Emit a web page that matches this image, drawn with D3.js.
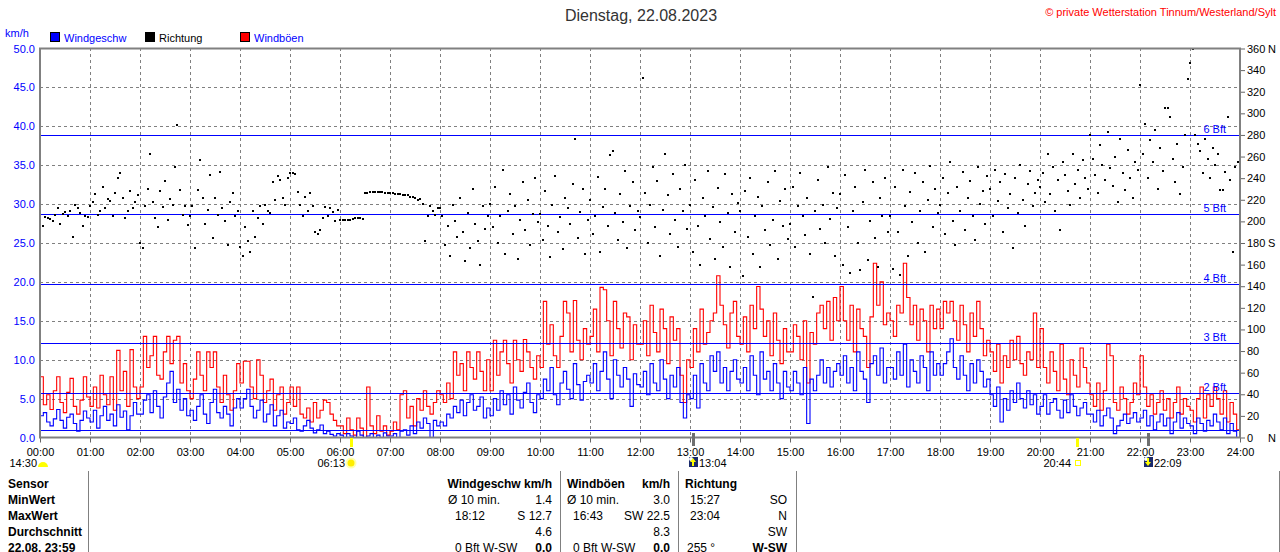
<!DOCTYPE html>
<html>
<head>
<meta charset="utf-8">
<script src="https://cdn.jsdelivr.net/npm/d3@7"></script>
<style>
body { margin: 0; background: #fff; }
svg { display: block; font-family: "Liberation Sans", Arial, sans-serif; }
</style>
</head>
<body>
<svg id="chart" width="1280" height="552"></svg>
<script>
// wind speed km/h, one value every 4 minutes (15 per hour)
var speed = [
	2.8,3.2,2.0,1.5,2.4,3.6,2.2,1.2,2.6,3.0,1.8,0.8,2.2,3.4,2.5,
	2.0,3.5,1.2,2.8,4.0,2.2,3.0,1.5,4.2,2.6,3.4,1.0,2.8,4.5,3.0,
	3.0,4.8,5.5,3.2,6.0,4.0,2.5,5.2,7.0,8.5,4.5,6.2,3.5,5.0,2.8,
	3.5,2.2,4.0,5.5,3.0,1.8,4.5,6.2,3.2,2.5,4.0,3.0,1.5,3.8,5.0,
	3.8,5.0,6.2,4.0,2.5,3.5,4.8,2.0,3.0,4.2,1.5,2.8,3.5,1.2,2.0,
	1.8,2.5,1.0,0.8,1.5,2.2,1.2,0.6,1.0,1.6,0.5,0.8,0.4,0.2,0.5,
	0.3,0.0,0.5,0.2,0.0,0.8,0.3,0.0,0.2,0.5,0.0,0.3,0.0,0.6,0.2,
	0.2,0.5,0.0,0.8,1.0,0.3,1.5,0.5,2.0,1.2,2.5,1.8,0.0,2.2,1.5,
	2.0,1.5,3.0,2.5,4.0,3.2,4.8,2.8,4.5,5.5,3.5,4.0,5.2,2.5,3.8,
	2.8,5.0,3.5,6.0,4.2,5.5,3.0,6.5,4.8,3.8,5.8,7.0,4.5,3.2,5.5,
	5.0,7.5,6.0,9.0,5.5,4.2,7.0,8.5,6.2,5.0,9.5,6.8,4.8,7.2,8.0,
	7.0,9.5,6.0,8.5,11.0,7.5,5.0,10.0,8.0,6.5,9.0,7.5,4.0,8.2,6.8,
	6.5,8.5,5.5,9.5,7.0,6.0,10.0,7.5,5.0,8.0,6.5,9.0,4.5,2.5,5.5,
	5.0,8.0,3.8,9.5,7.0,6.0,10.5,8.5,11.0,7.0,9.0,6.0,8.5,10.0,7.5,
	7.0,9.0,6.0,10.5,8.0,5.5,11.0,7.5,8.5,6.0,9.5,7.0,5.0,8.5,6.5,
	6.0,8.5,7.0,5.5,9.0,1.8,7.5,6.0,8.0,10.0,7.0,9.0,6.5,8.5,9.5,
	8.0,10.5,7.0,9.0,6.0,11.0,8.5,7.5,4.5,9.5,10.5,8.0,11.5,7.0,9.0,
	9.0,7.5,11.0,8.0,12.0,6.5,10.0,8.5,7.0,10.5,9.0,6.0,11.0,8.0,9.5,
	8.0,9.5,11.0,12.7,9.0,7.5,10.5,8.0,6.0,9.5,7.0,10.0,8.5,6.5,7.5,
	5.5,4.0,6.5,2.0,5.0,3.5,6.0,4.5,7.0,5.0,3.8,6.0,4.2,5.5,3.0,
	4.0,5.5,3.0,4.5,5.0,3.5,2.5,4.8,3.2,5.5,4.0,2.8,3.8,4.5,3.0,
	3.0,2.0,3.5,1.5,2.8,3.8,2.5,0.5,1.5,2.2,3.0,1.8,2.5,3.2,2.0,
	2.5,3.5,1.5,2.8,1.0,2.0,3.0,1.5,2.5,0.5,2.0,3.2,1.2,2.5,1.8,
	1.5,0.5,2.5,1.8,0.8,2.2,1.5,3.0,2.0,1.0,2.5,0.5,1.8,0.8,0.0
];

// gusts km/h, same 4 minute steps
var gusts = [
	7.8,4.2,5.5,3.6,6.0,7.8,4.5,3.2,5.8,7.6,4.0,3.0,4.8,7.8,5.2,
	4.0,6.5,3.8,8.0,5.5,4.2,7.8,3.5,11.2,6.0,8.5,4.0,11.3,6.5,5.0,
	6.5,13.0,9.0,10.5,13.0,8.0,7.5,11.0,13.0,9.5,12.5,13.0,7.0,9.5,6.0,
	5.0,7.5,11.0,8.0,6.0,11.0,9.0,11.0,6.5,4.5,8.0,5.5,3.5,6.0,9.5,
	7.0,9.8,9.8,6.5,5.0,10.0,8.0,4.5,6.0,7.5,3.5,5.5,6.5,3.0,4.5,
	6.5,4.0,6.5,3.0,2.5,3.8,2.0,4.5,2.5,3.5,4.8,4.5,3.0,2.2,1.5,
	1.5,0.5,2.5,1.0,0.3,2.5,1.2,0.0,6.5,1.5,0.5,2.8,0.8,1.5,0.3,
	0.8,2.0,1.0,5.5,6.0,2.5,4.0,1.5,5.0,3.5,6.0,4.0,3.0,4.5,6.0,
	5.5,4.5,7.0,5.0,11.0,8.0,9.5,6.0,11.0,9.0,7.5,11.0,8.5,6.0,10.0,
	6.0,12.5,8.0,11.0,12.5,9.5,7.0,12.5,10.0,8.5,12.6,11.0,9.0,7.5,10.5,
	9.0,17.5,12.0,14.5,10.5,9.0,13.0,17.5,16.0,11.0,17.6,12.5,10.0,14.0,12.0,
	13.0,16.5,11.0,19.3,19.0,15.0,10.5,17.5,14.0,11.5,16.0,15.5,10.0,14.5,12.0,
	12.0,15.0,10.5,17.0,13.5,11.0,16.5,14.0,9.5,15.5,12.5,14.0,8.0,4.5,10.0,
	9.0,14.0,11.0,16.5,12.0,13.5,15.0,16.0,20.8,17.0,14.5,11.5,16.0,17.5,13.0,
	12.0,15.5,11.0,17.0,14.0,19.4,16.5,13.0,15.0,10.5,16.0,12.5,9.5,14.0,11.0,
	11.0,14.5,13.0,10.0,15.0,7.0,13.5,12.0,16.0,17.0,14.0,17.5,12.5,18.0,15.0,
	19.4,15.0,12.5,17.0,11.0,16.5,14.0,13.0,9.0,15.5,22.4,17.0,20.0,14.5,16.0,
	15.0,13.0,17.0,16.0,22.4,18.0,14.5,17.0,12.5,16.5,15.0,11.0,17.0,14.0,16.5,
	14.0,17.5,16.0,17.5,15.0,12.5,17.0,14.5,11.0,16.0,13.0,17.5,14.0,10.5,12.5,
	11.0,8.5,12.0,7.0,10.5,9.0,12.5,10.0,13.0,9.5,8.0,11.0,10.0,16.0,9.0,
	14.0,9.0,7.0,11.0,8.5,6.0,12.0,7.5,5.5,10.0,8.0,6.5,11.5,9.0,7.0,
	5.5,4.0,7.0,3.5,6.0,12.0,10.5,4.5,3.5,6.5,5.0,3.0,4.5,7.0,5.5,
	10.5,6.5,4.0,5.5,3.0,4.5,6.0,3.5,5.0,2.5,4.5,6.5,3.0,5.0,4.0,
	3.5,2.0,5.0,6.5,2.5,5.5,4.0,6.5,5.0,3.0,6.0,2.0,4.5,3.0,1.0
];

// wind direction in degrees, one value every 3 minutes (20 per hour)
var direction = [
	190,196,204,203,202,200,206,212,198,207,209,205,210,186,215,212,208,196,205,204,
	214,218,225,206,210,232,212,221,219,205,226,240,245,222,203,210,228,212,218,224,
	180,175,214,230,262,218,203,195,228,213,237,201,221,215,250,289,229,206,214,197,
	205,214,175,229,257,222,198,211,243,185,222,206,246,212,200,178,218,226,205,210,
	176,168,195,182,172,210,186,203,214,198,215,210,208,236,220,242,238,222,215,240,
	245,245,244,227,215,205,223,210,226,214,190,188,192,203,213,205,212,209,200,211,
	201,201,201,201,201,202,203,203,203,202,226,226,227,227,227,227,227,227,226,226,
	226,226,225,225,225,224,224,224,223,223,222,220,221,216,182,205,214,210,206,212,
	212,205,178,196,168,215,200,186,222,190,163,208,175,230,198,182,160,214,193,205,
	216,195,232,180,205,248,170,210,225,188,214,165,201,236,192,220,178,207,240,199,
	207,183,228,196,167,215,242,190,204,174,222,212,198,235,276,185,209,230,170,201,
	220,188,205,241,172,213,230,196,261,265,208,183,225,199,247,175,214,236,192,210,
	204,333,226,180,215,250,195,237,168,211,262,224,188,244,201,176,230,210,252,193,
	215,172,238,196,160,222,205,247,184,213,165,231,199,176,244,208,158,225,190,217,
	210,149,228,186,240,170,205,223,158,214,192,236,178,201,247,165,219,196,230,184,
	198,232,176,214,245,205,187,222,170,130,210,238,193,215,180,250,202,226,168,212,
	225,160,243,195,152,210,232,180,155,218,248,164,200,236,185,158,222,205,240,190,
	205,156,232,190,150,248,214,168,227,199,245,180,210,236,172,220,251,195,230,208,
	215,240,188,226,255,200,178,232,210,246,192,222,237,205,183,250,216,228,198,242,
	230,205,248,219,236,190,244,212,225,175,240,208,252,220,196,235,247,214,226,238,
	232,245,218,262,225,250,210,238,192,255,243,228,215,262,235,248,222,257,240,230,
	280,258,243,226,271,252,238,283,249,233,260,218,276,245,229,266,240,222,255,248,
	326,262,290,240,275,255,285,230,268,247,305,305,297,258,236,272,225,250,280,332,
	347,360,280,272,265,245,276,258,240,268,252,262,229,229,246,297,238,172,250,255
];

var speedStep = 4, dirStep = 3;
var hourTicks = d3.range(0, 1441, 60);
var kmhTicks = d3.range(0, 50.1, 5);
var degTicks = d3.range(0, 361, 20);
var degNames = [[0, "N"], [180, "S"], [360, "N"]];
var bftLimits = [1.0, 5.7, 12.1, 19.7, 28.7, 38.9];
var bftNames = ["", "2 Bft", "3 Bft", "4 Bft", "5 Bft", "6 Bft"];

var astroMinutes = [4, 373, 784, 1244, 1329];
var astroLabels = ["14:30", "06:13", "13:04", "20:44", "22:09"];
var astroKinds = ["moon", "sun", "moonrise", "sunset", "moonset"];

var legendNames = ["Windgeschw", "Richtung", "Windböen"];
var legendColors = ["#0000ff", "#000000", "#ff0000"];
var legendText = ["#0000ff", "#000000", "#0000ff"];

var rowNames = ["Sensor", "MinWert", "MaxWert", "Durchschnitt", "22.08. 23:59"];
var speedCol = [["Ø 10 min.", "1.4"], ["18:12", "S 12.7"], ["", "4.6"], ["0 Bft W-SW", "0.0"]];
var gustCol = [["Ø 10 min.", "3.0"], ["16:43", "SW 22.5"], ["", "8.3"], ["0 Bft W-SW", "0.0"]];
var dirCol = [["15:27", "SO"], ["23:04", "N"], ["", "SW"], ["255 °", "W-SW"]];

var svg = d3.select('#chart');
var x = d3.scaleLinear().domain([0, 1440]).range([40, 1240]);
var y = d3.scaleLinear().domain([0, 50]).range([437.5, 48.5]);
var yDir = d3.scaleLinear().domain([0, 360]).range([437.5, 48.5]);
function px(v) { return Math.round(v) + 0.5; }

svg.append('clipPath').attr('id', 'plot')
	.append('rect').attr('x', 40).attr('y', 48).attr('width', 1200).attr('height', 390);

// title and copyright
svg.append('text').attr('x', 641).attr('y', 21).attr('text-anchor', 'middle')
	.attr('font-size', 16).attr('fill', '#333').text('Dienstag, 22.08.2023');
svg.append('text').attr('x', 1276).attr('y', 16).attr('text-anchor', 'end')
	.attr('font-size', 11).attr('fill', '#ff0000').text('© private Wetterstation Tinnum/Westerland/Sylt');
svg.append('text').attr('x', 5).attr('y', 37).attr('font-size', 11)
	.attr('fill', '#0000ff').text('km/h');

// legend
var legend = svg.append('g').selectAll('g').data(legendNames).enter().append('g')
	.attr('transform', function(d, i) { return 'translate(' + (50 + i * 95) + ',0)'; });
legend.append('rect').attr('x', 0.5).attr('y', 32.5).attr('width', 9).attr('height', 9)
	.attr('fill', function(d, i) { return legendColors[i]; }).attr('stroke', '#000');
legend.append('text').attr('x', 14).attr('y', 42).attr('font-size', 11)
	.attr('fill', function(d, i) { return legendText[i]; }).text(function(d) { return d; });

// grid
var grid = svg.append('g').attr('stroke', '#808080').attr('stroke-dasharray', '3,3');
grid.selectAll('line.h').data(kmhTicks.slice(1, -1)).enter().append('line')
	.attr('x1', 40).attr('x2', 1240)
	.attr('y1', function(d) { return px(y(d)); }).attr('y2', function(d) { return px(y(d)); });
grid.selectAll('line.v').data(hourTicks.slice(1, -1)).enter().append('line')
	.attr('class', 'v')
	.attr('y1', 48).attr('y2', 438)
	.attr('x1', function(d) { return px(x(d)); }).attr('x2', function(d) { return px(x(d)); });

function stepPoints(values, step) {
	var pts = values.map(function(v, i) { return [i * step, v]; });
	pts.push([1440, values[values.length - 1]]);
	return pts;
}
var line = d3.line()
	.x(function(d) { return x(d[0]); })
	.y(function(d) { return y(d[1]); })
	.curve(d3.curveStepAfter);

var plot = svg.append('g').attr('clip-path', 'url(#plot)');

plot.append('path').datum(stepPoints(gusts, speedStep))
	.attr('fill', 'none').attr('stroke', '#ff0000').attr('stroke-width', 1.1).attr('d', line);

// beaufort limits
plot.selectAll('line.bft').data(bftLimits).enter().append('line')
	.attr('x1', 40).attr('x2', 1240)
	.attr('y1', function(d) { return px(y(d)); }).attr('y2', function(d) { return px(y(d)); })
	.attr('stroke', '#0000ff');

plot.append('path').datum(stepPoints(speed, speedStep))
	.attr('fill', 'none').attr('stroke', '#0000ff').attr('stroke-width', 1.1).attr('d', line);

plot.selectAll('rect.dir').data(direction).enter().append('rect')
	.attr('x', function(d, i) { return Math.round(x(i * dirStep)) - 1; })
	.attr('y', function(d) { return Math.round(yDir(d)) - 1; })
	.attr('width', 2).attr('height', 2).attr('fill', '#000');

svg.selectAll('text.bft').data(bftNames).enter().append('text')
	.attr('x', 1226).attr('text-anchor', 'end')
	.attr('y', function(d, i) { return px(y(bftLimits[i])) - 3; })
	.attr('font-size', 11).attr('fill', '#0000ff').text(function(d) { return d; });

// axes
var leftAxis = svg.append('g').attr('transform', 'translate(40,0)')
	.call(d3.axisLeft(y).tickValues(kmhTicks).tickSize(0).tickPadding(5).tickFormat(d3.format('.1f')));
var rightAxis = svg.append('g').attr('transform', 'translate(1240,0)')
	.call(d3.axisRight(yDir).tickValues(degTicks).tickSize(5).tickPadding(2).tickFormat(function(d) { return d; }));
var bottomAxis = svg.append('g').attr('transform', 'translate(0,437.5)')
	.call(d3.axisBottom(x).tickValues(hourTicks).tickSize(5).tickPadding(6)
		.tickFormat(function(d) { return d3.format('02d')(d / 60) + ':00'; }));

[leftAxis, rightAxis, bottomAxis].forEach(function(a) {
	a.select('.domain').remove();
	a.selectAll('text').attr('font-size', 11).attr('font-family', '"Liberation Sans", Arial, sans-serif');
	a.selectAll('line').attr('stroke', '#666');
});
leftAxis.selectAll('text').attr('fill', '#0000ff');
rightAxis.selectAll('text').attr('fill', '#000');
bottomAxis.selectAll('text').attr('fill', '#000');

svg.selectAll('text.deg').data(degNames).enter().append('text')
	.attr('x', 1268).attr('y', function(d) { return yDir(d[0]) + 4; })
	.attr('font-size', 11).attr('fill', '#000').text(function(d) { return d[1]; });

// frame
svg.append('rect').attr('x', 40).attr('y', 48.5).attr('width', 1200).attr('height', 389)
	.attr('fill', 'none').attr('stroke', '#808080').attr('stroke-width', 2);

// sun and moon times
var astro = svg.append('g');
astroMinutes.forEach(function(m, i) {
	var ax = Math.round(x(m));
	var kind = astroKinds[i];
	if (kind == 'sun' || kind == 'sunset') {
		astro.append('rect').attr('x', ax - 1).attr('y', 438).attr('width', 3).attr('height', 9).attr('fill', '#ffff00');
	}
	if (kind == 'moonrise' || kind == 'moonset') {
		astro.append('rect').attr('x', ax - 1).attr('y', 433).attr('width', 3).attr('height', 13).attr('fill', '#707070');
	}
	var label = astro.append('text').attr('y', 467).attr('font-size', 11).attr('fill', '#000').text(astroLabels[i]);
	if (kind == 'moonrise' || kind == 'moonset') {
		label.attr('x', ax + 6);
		astro.append('rect').attr('x', ax - 4).attr('y', 457).attr('width', 9).attr('height', 10).attr('fill', '#1a2a6c');
		astro.append('circle').attr('cx', ax - 2).attr('cy', 459).attr('r', 2).attr('fill', '#ffffff');
		var arrow = kind == 'moonrise'
			? 'M' + ax + ',458 l3,4 h-2 v4 h-2 v-4 h-2 z'
			: 'M' + ax + ',466 l3,-4 h-2 v-4 h-2 v4 h-2 z';
		astro.append('path').attr('d', arrow).attr('fill', '#ffff00');
	} else {
		label.attr('x', ax - 6).attr('text-anchor', 'end');
		if (kind == 'moon') {
			astro.append('path').attr('d', 'M' + (ax - 5) + ',467 a5,5 0 0 1 10,0 z').attr('fill', '#ffff00');
		} else if (kind == 'sun') {
			astro.append('circle').attr('cx', ax).attr('cy', 463).attr('r', 5.5).attr('fill', '#ffffb0');
			astro.append('circle').attr('cx', ax).attr('cy', 463).attr('r', 3.5).attr('fill', '#ffee00');
		} else {
			astro.append('rect').attr('x', ax - 1.5).attr('y', 460.5).attr('width', 5).attr('height', 5)
				.attr('fill', 'none').attr('stroke', '#ffff00');
		}
	}
});

// summary table
var table = svg.append('g').attr('font-size', 12).attr('fill', '#000');
[88, 560, 678, 796, 1279].forEach(function(sx) {
	table.append('line').attr('x1', sx + 0.5).attr('x2', sx + 0.5).attr('y1', 471).attr('y2', 552)
		.attr('stroke', '#808080');
});
rowNames.forEach(function(r, i) {
	table.append('text').attr('x', 8).attr('y', 488 + i * 16).attr('font-weight', 'bold').text(r);
});
table.append('text').attr('x', 552).attr('y', 488).attr('text-anchor', 'end').attr('font-weight', 'bold').text('Windgeschw km/h');
table.append('text').attr('x', 567).attr('y', 488).attr('font-weight', 'bold').text('Windböen');
table.append('text').attr('x', 670).attr('y', 488).attr('text-anchor', 'end').attr('font-weight', 'bold').text('km/h');
table.append('text').attr('x', 685).attr('y', 488).attr('font-weight', 'bold').text('Richtung');

function fillColumn(rows, leftX, rightX) {
	rows.forEach(function(r, i) {
		var ry = 504 + i * 16;
		table.append('text').attr('x', leftX[i]).attr('y', ry).text(r[0]);
		table.append('text').attr('x', rightX).attr('y', ry).attr('text-anchor', 'end')
			.attr('font-weight', i == 3 ? 'bold' : 'normal').text(r[1]);
	});
}
fillColumn(speedCol, [448, 455, 455, 455], 552);
fillColumn(gustCol, [567, 573, 573, 573], 670);
fillColumn(dirCol, [690, 690, 690, 687], 787);
</script>
</body>
</html>
